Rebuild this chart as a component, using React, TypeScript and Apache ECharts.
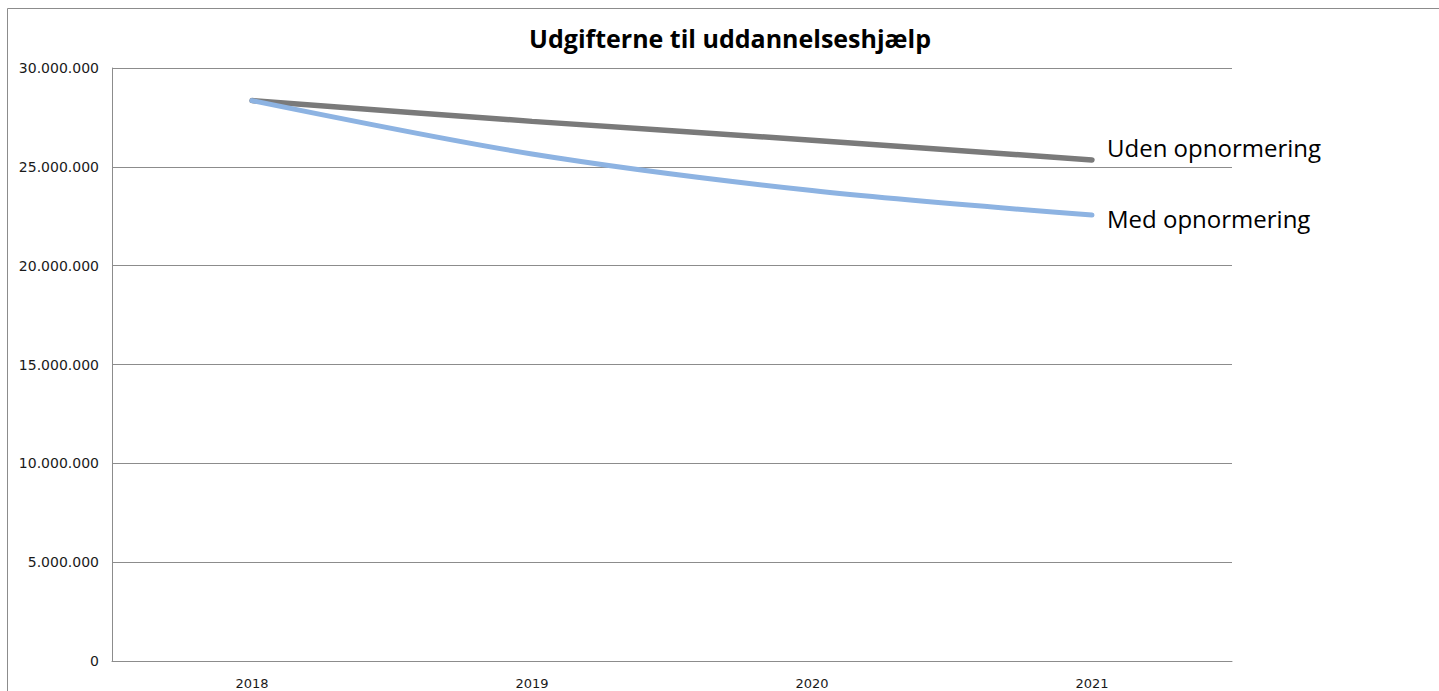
import React, { useEffect, useRef } from "react";
import * as echarts from "echarts";

const years = ["2018", "2019", "2020", "2021"];
const udenOpnormering = [28350000, 27300000, 26350000, 25350000];
const medOpnormering = [28350000, 25650000, 23800000, 22560000];
const seriesNames = ["Uden opnormering", "Med opnormering"];
const titleText = "Udgifterne til uddannelseshjælp";

const fmt = (v: number) =>
  String(Math.round(v)).replace(/\B(?=(\d{3})+(?!\d))/g, ".");

export default function App() {
  const ref = useRef<HTMLDivElement>(null);
  useEffect(() => {
    if (!ref.current) return;
    const chart = echarts.init(ref.current, null, { renderer: "svg" });
    const font = "'Open Sans', 'Liberation Sans', sans-serif";
    const axisFont = "'DejaVu Sans', 'Open Sans', sans-serif";
    chart.setOption({
      animation: false,
      backgroundColor: "#ffffff",
      title: {
        text: titleText,
        left: 725,
        top: 20,
        textAlign: "center",
        textStyle: {
          fontFamily: font,
          fontSize: 25,
          fontWeight: "bold",
          color: "#000000",
        },
      },
      graphic: [
        {
          type: "line",
          shape: { x1: 7.5, y1: 8.5, x2: 1439, y2: 8.5 },
          style: { stroke: "#8c8c8c", lineWidth: 1 },
        },
        {
          type: "line",
          shape: { x1: 7.5, y1: 8.5, x2: 7.5, y2: 691 },
          style: { stroke: "#8c8c8c", lineWidth: 1 },
        },
      ],
      grid: { left: 112, top: 68, width: 1120, bottom: 30 },
      xAxis: {
        type: "category",
        data: years,
        boundaryGap: true,
        axisLine: { show: true, lineStyle: { color: "#8c8c8c", width: 1 } },
        axisTick: { show: false },
        axisLabel: {
          fontFamily: axisFont,
          fontSize: 13,
          color: "#1a1a1a",
          margin: 16,
        },
        splitLine: { show: false },
      },
      yAxis: {
        type: "value",
        min: 0,
        max: 30000000,
        interval: 5000000,
        axisLine: { show: true, lineStyle: { color: "#8c8c8c", width: 1 } },
        axisTick: { show: false },
        axisLabel: {
          fontFamily: axisFont,
          fontSize: 14,
          color: "#1a1a1a",
          margin: 13,
          formatter: (v: number) => fmt(v),
        },
        splitLine: { show: true, lineStyle: { color: "#8c8c8c", width: 1 } },
      },
      series: [
        {
          name: seriesNames[0],
          type: "line",
          data: udenOpnormering,
          smooth: 0.3,
          symbol: "none",
          lineStyle: { color: "#7a7a7a", width: 5.5, cap: "round" },
          endLabel: {
            show: true,
            formatter: "{a}",
            distance: 15,
            offset: [0, -12],
            fontFamily: font,
            fontSize: 24,
            color: "#000000",
          },
        },
        {
          name: seriesNames[1],
          type: "line",
          data: medOpnormering,
          smooth: 0.3,
          symbol: "none",
          lineStyle: { color: "#8db3e2", width: 5, cap: "round" },
          endLabel: {
            show: true,
            formatter: "{a}",
            distance: 15,
            offset: [0, 3],
            fontFamily: font,
            fontSize: 24,
            color: "#000000",
          },
        },
      ],
    });
    return () => chart.dispose();
  }, []);
  return (
    <div
      ref={ref}
      style={{
        position: "fixed",
        left: 0,
        top: 0,
        width: 1439,
        height: 691,
      }}
    />
  );
}
